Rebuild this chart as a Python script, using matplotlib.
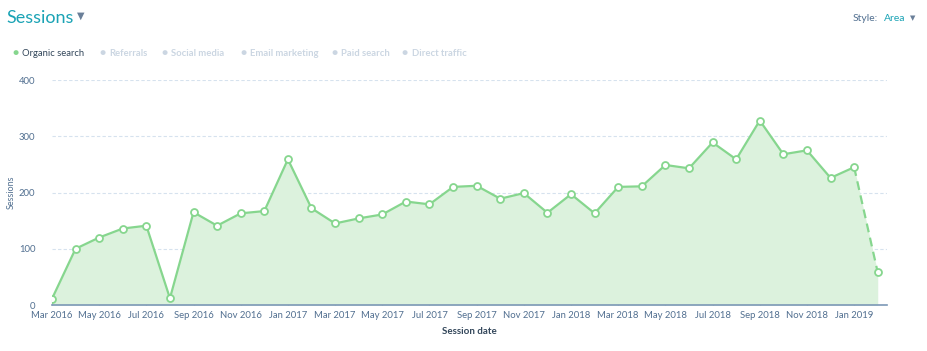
import matplotlib
matplotlib.use("Agg")
import matplotlib.pyplot as plt
import numpy as np

plt.rcParams['font.family'] = ['Lato', 'DejaVu Sans']

# monthly sessions, Mar 2016 .. Feb 2019
months = ["Mar 2016", "Apr 2016", "May 2016", "Jun 2016", "Jul 2016", "Aug 2016",
          "Sep 2016", "Oct 2016", "Nov 2016", "Dec 2016", "Jan 2017", "Feb 2017",
          "Mar 2017", "Apr 2017", "May 2017", "Jun 2017", "Jul 2017", "Aug 2017",
          "Sep 2017", "Oct 2017", "Nov 2017", "Dec 2017", "Jan 2018", "Feb 2018",
          "Mar 2018", "Apr 2018", "May 2018", "Jun 2018", "Jul 2018", "Aug 2018",
          "Sep 2018", "Oct 2018", "Nov 2018", "Dec 2018", "Jan 2019", "Feb 2019"]
sessions = [11, 100, 120, 136, 141, 12,
            165, 141, 163, 167, 259, 172,
            145, 154, 161, 184, 179, 210,
            212, 189, 199, 164, 197, 163,
            210, 211, 249, 243, 289, 259,
            328, 268, 275, 226, 245, 58]
yticks = [0, 100, 200, 300, 400]
legend_names = ["Organic search", "Referrals", "Social media", "Email marketing",
                "Paid search", "Direct traffic"]

GREEN = "#86d68e"
FILL = "#dcf2dd"
TEAL = "#1aa3b5"
DARK = "#33475b"
GREY = "#516f90"
FAINT = "#cbd6e2"

fig = plt.figure(figsize=(9.28, 3.51), dpi=100)
ax = fig.add_axes([0.056, 0.131, 0.900, 0.641])

x = np.arange(len(sessions))
y = np.array(sessions)
ax.fill_between(x, 0, y, color=FILL, lw=0, zorder=1)
ax.plot(x[:-1], y[:-1], color=GREEN, lw=1.6, zorder=3)
ax.plot(x[-2:], y[-2:], color=GREEN, lw=1.6, ls=(0, (4, 2.5)), zorder=3)
ax.plot(x, y, ls="none", marker="o", ms=5, mfc="white", mec=GREEN, mew=1.3, zorder=4)

ax.set_xlim(0, len(sessions) - 1 + 0.4)
ax.set_ylim(0, 400)
ax.set_yticks(yticks)
ax.set_yticklabels([str(v) for v in yticks])
ax.set_xticks(x[::2])
ax.set_xticklabels(months[::2])
ax.grid(axis="y", color="#d6e2ee", ls=(0, (3, 2)), lw=0.8)
ax.set_axisbelow(True)
for s in ["top", "right", "left"]:
    ax.spines[s].set_visible(False)
ax.spines["bottom"].set_color("#7c98b6")
ax.spines["bottom"].set_linewidth(1.2)
ax.spines["bottom"].set_zorder(5)
ax.tick_params(axis="x", direction="in", length=4, width=0.8, color="#7c98b6",
               labelsize=6.8, labelcolor=GREY, pad=4)
ax.tick_params(axis="y", length=0, labelsize=6.8, labelcolor=GREY, pad=12)
ax.set_xlabel("Session date", fontsize=7, color=DARK, fontweight="bold", labelpad=5)
ax.set_ylabel("Sessions", fontsize=6.5, color=GREY)
ax.yaxis.set_label_coords(-0.044, 0.5)

# header
fig.text(0.007, 0.948, "Sessions", fontsize=13, color=TEAL, va="center", ha="left")
fig.text(0.083, 0.955, "\u25BC", fontsize=7, color="#6a7f99", va="center", ha="left")
fig.text(0.946, 0.948, "Style:", fontsize=7.5, color=GREY, va="center", ha="right")
fig.text(0.953, 0.948, "Area", fontsize=7.5, color=TEAL, va="center", ha="left")
fig.text(0.981, 0.950, "\u25BC", fontsize=5, color="#6a7f99", va="center", ha="left")

# legend row
lx = [0.013, 0.107, 0.174, 0.259, 0.357, 0.433]
for i, name in enumerate(legend_names):
    c = GREEN if i == 0 else FAINT
    tc = DARK if i == 0 else FAINT
    fig.text(lx[i], 0.849, "\u25CF", fontsize=7.5, color=c, va="center", ha="left")
    fig.text(lx[i] + 0.0105, 0.849, name, fontsize=6.8, color=tc, va="center", ha="left",
             fontweight="normal" if i == 0 else "bold")

fig.savefig("out.png", dpi=100)
